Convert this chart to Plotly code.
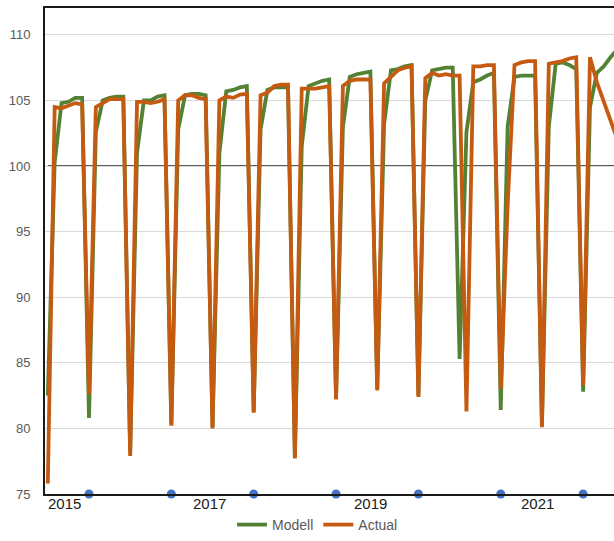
import plotly.graph_objects as go

months = list(range(84))

modell = [82.5, 100.3, 104.8, 104.9, 105.2, 105.2,
          80.8, 102.6, 105.0, 105.2, 105.3, 105.3,
          78.2, 101.0, 105.0, 105.0, 105.3, 105.4,
          80.3, 102.8, 105.4, 105.5, 105.5, 105.4,
          80.1, 101.0, 105.7, 105.8, 106.0, 106.1,
          81.3, 102.8, 105.8, 106.0, 106.0, 106.0,
          77.8, 101.5, 106.1, 106.3, 106.5, 106.6,
          82.3, 103.0, 106.8, 107.0, 107.1, 107.2,
          83.0, 103.2, 107.3, 107.4, 107.6, 107.7,
          82.5, 105.0, 107.3, 107.4, 107.5, 107.5,
          85.3, 102.6, 106.4, 106.6, 106.9, 107.1,
          81.4, 103.0, 106.8, 106.9, 106.9, 106.9,
          80.2, 103.0, 107.8, 107.9, 107.7, 107.4,
          82.8, 104.5, 107.1, 107.6, 108.3, 108.9]

actual = [75.8, 104.5, 104.4, 104.6, 104.8, 104.7,
          82.6, 104.5, 104.8, 105.1, 105.1, 105.1,
          77.9, 104.9, 104.9, 104.8, 104.9, 105.1,
          80.2, 105.0, 105.4, 105.4, 105.2, 105.1,
          80.0, 105.0, 105.3, 105.2, 105.45, 105.5,
          81.2, 105.4, 105.6, 106.1, 106.2, 106.2,
          77.7, 105.9, 105.9, 105.9, 106.0, 106.1,
          82.2, 106.1, 106.5, 106.6, 106.6, 106.6,
          82.9, 106.3, 106.8, 107.3, 107.5, 107.6,
          82.4, 106.7, 107.1, 106.9, 107.0, 106.9,
          106.9, 81.3, 107.6, 107.6, 107.7, 107.7,
          83.0, 97.0, 107.7, 107.9, 108.0, 108.0,
          80.1, 107.8, 107.9, 108.0, 108.2, 108.3,
          83.3, 108.3, 106.4, 104.9, 103.3, 102.0]

marker_months = [6, 18, 30, 42, 54, 66, 78]
marker_values = [75, 75, 75, 75, 75, 75, 75]

year_positions = [2.36, 23.5, 47.0, 71.3]
year_labels = ["2015", "2017", "2019", "2021"]

y_ticks = [75, 80, 85, 90, 95, 100, 105, 110]

FONT = "Liberation Sans"

fig = go.Figure()
fig.add_trace(go.Scatter(x=months, y=modell, mode="lines", name="Modell",
                         line=dict(color="#548235", width=3.8)))
fig.add_trace(go.Scatter(x=months, y=actual, mode="lines", name="Actual",
                         line=dict(color="#C55A11", width=3.8)))
fig.add_trace(go.Scatter(x=marker_months, y=marker_values, mode="markers",
                         showlegend=False, cliponaxis=False,
                         marker=dict(color="#4472C4", size=9)))

fig.add_shape(type="line", xref="x", yref="y", x0=0, x1=82.5, y0=100, y1=100,
              line=dict(color="#262626", width=1.5), layer="below")

for xp, lab in zip(year_positions, year_labels):
    fig.add_annotation(x=xp, y=0, xref="x", yref="paper", text=lab, showarrow=False,
                       yanchor="middle", xanchor="center", yshift=-9,
                       font=dict(size=15, color="#1a1a1a", family=FONT))

fig.update_layout(
    width=614, height=541,
    margin=dict(l=45, r=0, t=8, b=39),
    paper_bgcolor="white", plot_bgcolor="white",
    font=dict(family=FONT, color="#595959"),
    showlegend=True,
    legend=dict(orientation="h", x=0.479, xanchor="center", y=-0.064, yanchor="middle",
                font=dict(size=14, color="#595959"), bgcolor="rgba(0,0,0,0)"),
    xaxis=dict(range=[-0.41, 82.5], showgrid=False, zeroline=False, automargin=False,
               showline=True, linecolor="#1a1a1a", linewidth=1.5, mirror=True,
               showticklabels=False, ticks=""),
    yaxis=dict(range=[75, 112.05], tickvals=y_ticks, showgrid=True, automargin=False,
               gridcolor="#D9D9D9", gridwidth=1, zeroline=False,
               showline=True, linecolor="#1a1a1a", linewidth=2,
               ticks="", ticklabelstandoff=10,
               tickfont=dict(size=13, color="#595959", family=FONT)),
)

fig.write_html("out.html", config={"displayModeBar": False},
               post_script="document.body.style.margin='0';document.body.style.overflow='hidden';")
